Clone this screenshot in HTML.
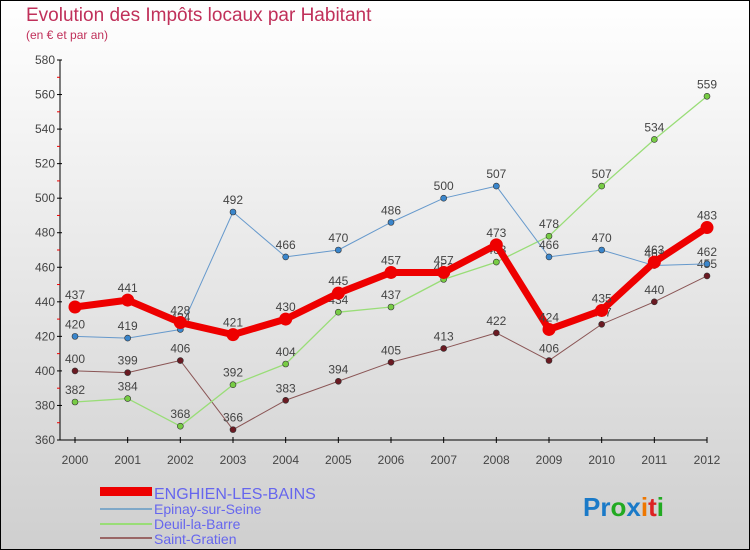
<!DOCTYPE html>
<html><head><meta charset="utf-8"><style>
body{margin:0}
svg{display:block;font-family:"Liberation Sans",sans-serif}
</style></head><body>
<svg id="c" width="750" height="550">
<defs><linearGradient id="bg" x1="0" y1="0" x2="0" y2="1"><stop offset="0" stop-color="#ffffff"/><stop offset="1" stop-color="#cfcfcf"/></linearGradient></defs>
<rect x="0.5" y="0.5" width="749" height="549" fill="url(#bg)" stroke="#000"/>
<text x="26" y="21" font-size="19" fill="#c0305a">Evolution des Impôts locaux par Habitant</text>
<text x="26" y="39" font-size="12" fill="#c0305a">(en € et par an)</text>
<g id="axes"></g><g id="series"></g>
<g>
<rect x="100" y="487" width="52" height="9" fill="#e00"/>
<text x="154" y="499" font-size="16" fill="#6666ee">ENGHIEN-LES-BAINS</text>
<line x1="100" y1="509" x2="152" y2="509" stroke="#7fa8c8" stroke-width="2"/>
<text x="154" y="514" font-size="14" fill="#6666ee">Epinay-sur-Seine</text>
<line x1="100" y1="524" x2="152" y2="524" stroke="#99dd77" stroke-width="2"/>
<text x="154" y="529" font-size="14" fill="#6666ee">Deuil-la-Barre</text>
<line x1="100" y1="538" x2="152" y2="538" stroke="#996666" stroke-width="2"/>
<text x="154" y="544" font-size="14" fill="#6666ee">Saint-Gratien</text>
</g>
<text x="583" y="516" font-size="26" font-weight="bold"><tspan fill="#1a7ac8">Pr</tspan><tspan fill="#22aa22">o</tspan><tspan fill="#1a7ac8">x</tspan><tspan fill="#ee7700">i</tspan><tspan fill="#dd2222">t</tspan><tspan fill="#22aa22">i</tspan></text>
</svg>
<script>
const years=[2000,2001,2002,2003,2004,2005,2006,2007,2008,2009,2010,2011,2012];
const enghien=[437,441,428,421,430,445,457,457,473,424,435,463,483];
const epinay=[420,419,424,492,466,470,486,500,507,466,470,461,462];
const deuil=[382,384,368,392,404,434,437,453,463,478,507,534,559];
const gratien=[400,399,406,366,383,394,405,413,422,406,427,440,455];
const yTicks=[360,380,400,420,440,460,480,500,520,540,560,580];
const NS="http://www.w3.org/2000/svg";
const X=i=>75+i*(707-75)/12;
const Y=v=>440-(v-360)*380/220;
function mk(tag,a,p){const e=document.createElementNS(NS,tag);for(const k in a)e.setAttribute(k,a[k]);p.appendChild(e);return e;}
const ax=document.getElementById('axes');
let l=mk('line',{x1:60,y1:60,x2:60,y2:440,stroke:'#000'},ax);


l=mk('line',{x1:60,y1:440,x2:707,y2:440,stroke:'#000'},ax);


yTicks.forEach((v,i)=>{
 mk('line',{x1:57,y1:Y(v),x2:62,y2:Y(v),stroke:'#000'},ax);
 if(i<yTicks.length-1) mk('line',{x1:57,y1:Y(v+10),x2:60,y2:Y(v+10),stroke:'#e00'},ax);
 const t=mk('text',{x:55,y:Y(v)+4,'font-size':12,fill:'#444','text-anchor':'end'},ax);
 t.textContent=v;
 
 
});
years.forEach((y,i)=>{
 mk('line',{x1:X(i),y1:437,x2:X(i),y2:443,stroke:'#000'},ax);
 const t=mk('text',{x:X(i),y:464,'font-size':12,fill:'#444','text-anchor':'middle'},ax);
 t.textContent=y;
 
 
});
const sg=document.getElementById('series');
function series(data,color,dot,w,r,name,lab){
 const g=mk('g',{},sg);
 
 
 mk('polyline',{points:data.map((v,i)=>X(i)+','+Y(v)).join(' '),fill:'none',stroke:color,'stroke-width':w,'stroke-linejoin':'round'},g);
 data.forEach((v,i)=>{
  const c=mk('circle',{cx:X(i),cy:Y(v),r:r,fill:dot,stroke:'#333','stroke-width':r>4?0:0.6},g);
  
  
  const t=mk('text',{x:X(i),y:Y(v)-8,'font-size':12,fill:'#444','text-anchor':'middle'},g);
  t.textContent=v;
  
  
 });
}
series(gratien,'#8a5555','#6b1a22',1,3,'series-saint-gratien');
series(deuil,'#99dd77','#77cc44',1.3,3,'series-deuil');
series(epinay,'#6699cc','#3a86cc',1,3,'series-epinay');
series(enghien,'#ee0000','#ee0000',7,6.5,'series-enghien');
</script>
</body></html>
